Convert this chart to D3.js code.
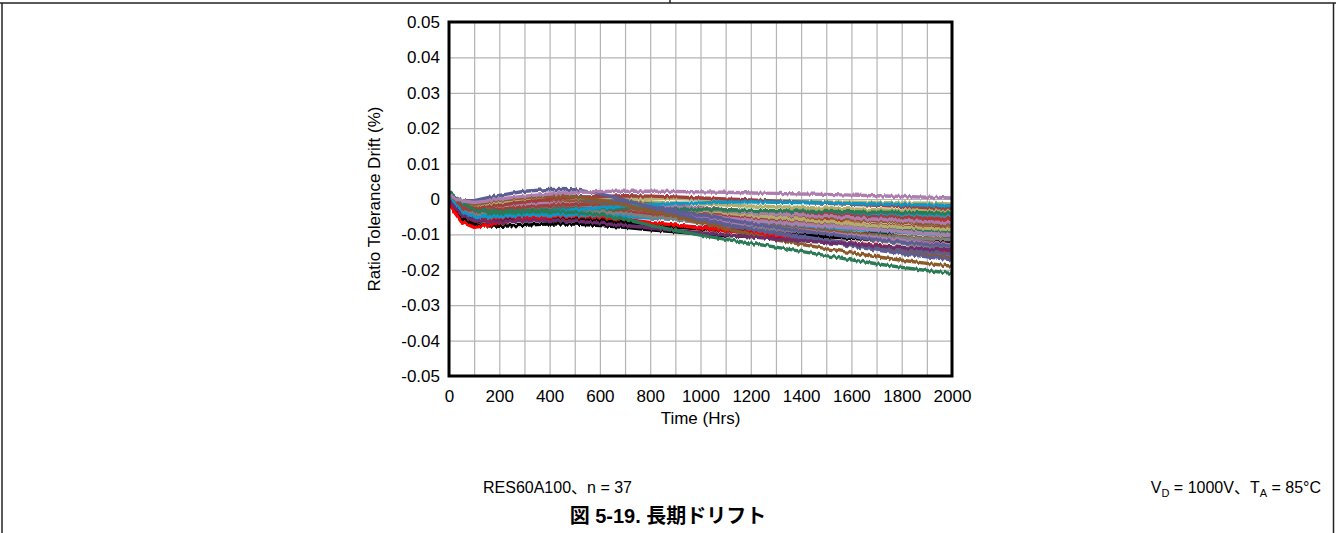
<!DOCTYPE html>
<html>
<head>
<meta charset="utf-8">
<script src="https://cdn.jsdelivr.net/npm/d3@7"></script>
<style>
  html, body { margin: 0; padding: 0; background: #fff; }
  svg { display: block; }
  text { font-family: "Liberation Sans", Arial, "Noto Sans CJK JP", sans-serif; fill: #000; }
</style>
</head>
<body>
<svg id="chart" width="1336" height="533"></svg>
<script>
// Sample times (hours) shared by every unit
const hours = [0, 25, 50, 100, 150, 200, 300, 400, 500, 600, 700, 800, 900, 1000, 1100, 1200, 1300, 1400, 1500, 1600, 1700, 1800, 1900, 2000];

// Axis ticks and labels
const xTickValues = [0, 200, 400, 600, 800, 1000, 1200, 1400, 1600, 1800, 2000];
const xGridValues = [0, 100, 200, 300, 400, 500, 600, 700, 800, 900, 1000, 1100, 1200, 1300, 1400, 1500, 1600, 1700, 1800, 1900, 2000];
const yTickValues = [0.05, 0.04, 0.03, 0.02, 0.01, 0, -0.01, -0.02, -0.03, -0.04, -0.05];
const yTickLabels = ["0.05", "0.04", "0.03", "0.02", "0.01", "0", "-0.01", "-0.02", "-0.03", "-0.04", "-0.05"];

// Ratio tolerance drift (%) of each of the 37 units
const teal1   = [0.0008, -0.0008, -0.0020, -0.0030, -0.0029, -0.0026, -0.0020, -0.0016, -0.0014, -0.0014, -0.0016, -0.0019, -0.0023, -0.0027, -0.0031, -0.0035, -0.0039, -0.0043, -0.0046, -0.0049, -0.0052, -0.0055, -0.0057, -0.0059];
const teal2   = [0.0006, -0.0010, -0.0024, -0.0034, -0.0033, -0.0030, -0.0025, -0.0022, -0.0022, -0.0025, -0.0030, -0.0036, -0.0042, -0.0048, -0.0054, -0.0060, -0.0065, -0.0070, -0.0075, -0.0080, -0.0084, -0.0088, -0.0092, -0.0095];
const gray4   = [0.0003, -0.0014, -0.0028, -0.0038, -0.0036, -0.0033, -0.0027, -0.0024, -0.0026, -0.0032, -0.0040, -0.0049, -0.0058, -0.0067, -0.0075, -0.0083, -0.0090, -0.0097, -0.0104, -0.0111, -0.0118, -0.0125, -0.0132, -0.0138];
const khaki4  = [0.0005, -0.0010, -0.0022, -0.0029, -0.0026, -0.0022, -0.0015, -0.0011, -0.0011, -0.0015, -0.0021, -0.0028, -0.0035, -0.0042, -0.0049, -0.0056, -0.0063, -0.0069, -0.0075, -0.0081, -0.0087, -0.0093, -0.0099, -0.0105];
const plum2   = [-0.0003, -0.0022, -0.0040, -0.0055, -0.0058, -0.0058, -0.0055, -0.0052, -0.0053, -0.0057, -0.0063, -0.0069, -0.0075, -0.0080, -0.0085, -0.0090, -0.0094, -0.0098, -0.0101, -0.0104, -0.0107, -0.0109, -0.0111, -0.0113];
const black2  = [-0.0003, -0.0025, -0.0045, -0.0062, -0.0065, -0.0064, -0.0060, -0.0056, -0.0057, -0.0061, -0.0067, -0.0073, -0.0079, -0.0085, -0.0090, -0.0095, -0.0099, -0.0103, -0.0107, -0.0111, -0.0114, -0.0117, -0.0120, -0.0122];
const red2    = [-0.0010, -0.0030, -0.0050, -0.0062, -0.0058, -0.0053, -0.0045, -0.0040, -0.0038, -0.0038, -0.0040, -0.0043, -0.0046, -0.0049, -0.0051, -0.0053, -0.0055, -0.0057, -0.0058, -0.0059, -0.0060, -0.0061, -0.0062, -0.0063];
const gray3   = [0.0004, -0.0013, -0.0028, -0.0038, -0.0036, -0.0033, -0.0027, -0.0023, -0.0023, -0.0026, -0.0031, -0.0037, -0.0043, -0.0049, -0.0054, -0.0059, -0.0063, -0.0067, -0.0070, -0.0073, -0.0076, -0.0078, -0.0080, -0.0082];
const green3  = [0.0015, 0.0000, -0.0018, -0.0035, -0.0040, -0.0042, -0.0040, -0.0038, -0.0038, -0.0040, -0.0044, -0.0049, -0.0054, -0.0059, -0.0064, -0.0069, -0.0073, -0.0077, -0.0081, -0.0084, -0.0087, -0.0090, -0.0092, -0.0094];
const cyan2   = [0.0003, -0.0020, -0.0038, -0.0048, -0.0050, -0.0049, -0.0047, -0.0045, -0.0045, -0.0047, -0.0050, -0.0054, -0.0058, -0.0062, -0.0066, -0.0070, -0.0074, -0.0078, -0.0082, -0.0086, -0.0090, -0.0094, -0.0098, -0.0102];
const cyan3   = [0.0006, -0.0010, -0.0025, -0.0035, -0.0034, -0.0032, -0.0026, -0.0022, -0.0020, -0.0020, -0.0021, -0.0023, -0.0026, -0.0029, -0.0031, -0.0033, -0.0035, -0.0037, -0.0039, -0.0041, -0.0043, -0.0044, -0.0045, -0.0046];
const maroon4 = [0.0004, -0.0010, -0.0022, -0.0030, -0.0028, -0.0025, -0.0018, -0.0014, -0.0013, -0.0016, -0.0021, -0.0027, -0.0033, -0.0039, -0.0045, -0.0050, -0.0055, -0.0060, -0.0065, -0.0069, -0.0073, -0.0077, -0.0080, -0.0083];
const khaki3  = [0.0006, -0.0008, -0.0018, -0.0025, -0.0022, -0.0018, -0.0010, -0.0005, -0.0003, -0.0003, -0.0005, -0.0008, -0.0011, -0.0014, -0.0017, -0.0020, -0.0022, -0.0024, -0.0026, -0.0028, -0.0030, -0.0032, -0.0033, -0.0034];
const brownC  = [0.0008, -0.0005, -0.0015, -0.0023, -0.0020, -0.0015, -0.0008, -0.0004, -0.0003, -0.0005, -0.0009, -0.0014, -0.0020, -0.0026, -0.0032, -0.0038, -0.0043, -0.0048, -0.0053, -0.0058, -0.0062, -0.0066, -0.0070, -0.0073];
const brownB  = [0.0005, -0.0010, -0.0020, -0.0027, -0.0026, -0.0024, -0.0020, -0.0018, -0.0019, -0.0023, -0.0030, -0.0038, -0.0046, -0.0054, -0.0062, -0.0070, -0.0077, -0.0084, -0.0090, -0.0096, -0.0101, -0.0106, -0.0110, -0.0114];
const maroon3 = [0.0002, -0.0015, -0.0030, -0.0040, -0.0039, -0.0036, -0.0030, -0.0026, -0.0025, -0.0028, -0.0034, -0.0041, -0.0049, -0.0057, -0.0065, -0.0073, -0.0081, -0.0089, -0.0096, -0.0103, -0.0110, -0.0116, -0.0123, -0.0129];
const gray2   = [0.0003, -0.0015, -0.0030, -0.0040, -0.0038, -0.0035, -0.0030, -0.0028, -0.0030, -0.0035, -0.0042, -0.0050, -0.0058, -0.0066, -0.0073, -0.0080, -0.0086, -0.0092, -0.0097, -0.0102, -0.0106, -0.0110, -0.0113, -0.0115];
const khaki2  = [0.0005, -0.0010, -0.0022, -0.0030, -0.0028, -0.0024, -0.0017, -0.0012, -0.0010, -0.0012, -0.0016, -0.0022, -0.0028, -0.0034, -0.0040, -0.0046, -0.0052, -0.0058, -0.0064, -0.0070, -0.0076, -0.0080, -0.0083, -0.0086];
const lilac3  = [0.0006, -0.0008, -0.0016, -0.0022, -0.0020, -0.0017, -0.0013, -0.0012, -0.0014, -0.0019, -0.0026, -0.0033, -0.0040, -0.0047, -0.0054, -0.0060, -0.0066, -0.0072, -0.0077, -0.0082, -0.0087, -0.0092, -0.0097, -0.0101];
const lilac4  = [0.0007, -0.0006, -0.0014, -0.0020, -0.0018, -0.0015, -0.0010, -0.0008, -0.0010, -0.0016, -0.0025, -0.0034, -0.0044, -0.0054, -0.0063, -0.0072, -0.0080, -0.0088, -0.0096, -0.0103, -0.0110, -0.0117, -0.0124, -0.0130];
const gray1   = [0.0005, -0.0012, -0.0025, -0.0035, -0.0033, -0.0030, -0.0023, -0.0018, -0.0016, -0.0017, -0.0020, -0.0024, -0.0028, -0.0032, -0.0035, -0.0038, -0.0041, -0.0044, -0.0046, -0.0048, -0.0050, -0.0051, -0.0052, -0.0053];
const maroon2 = [0.0003, -0.0012, -0.0025, -0.0033, -0.0032, -0.0029, -0.0023, -0.0018, -0.0015, -0.0014, -0.0015, -0.0018, -0.0022, -0.0026, -0.0030, -0.0034, -0.0038, -0.0041, -0.0044, -0.0047, -0.0050, -0.0052, -0.0054, -0.0056];
const lilac2  = [0.0008, -0.0005, -0.0012, -0.0018, -0.0015, -0.0012, -0.0008, -0.0006, -0.0006, -0.0008, -0.0012, -0.0017, -0.0022, -0.0027, -0.0032, -0.0037, -0.0041, -0.0045, -0.0049, -0.0053, -0.0057, -0.0060, -0.0064, -0.0067];
const green2  = [0.0018, 0.0005, -0.0012, -0.0028, -0.0034, -0.0035, -0.0033, -0.0030, -0.0028, -0.0027, -0.0027, -0.0028, -0.0029, -0.0030, -0.0031, -0.0032, -0.0033, -0.0034, -0.0035, -0.0036, -0.0037, -0.0038, -0.0039, -0.0040];
const brownD  = [0.0008, -0.0005, -0.0015, -0.0022, -0.0018, -0.0013, -0.0006, -0.0002, -0.0004, -0.0011, -0.0022, -0.0035, -0.0048, -0.0061, -0.0074, -0.0086, -0.0098, -0.0109, -0.0119, -0.0129, -0.0139, -0.0148, -0.0157, -0.0165];
const slate3  = [0.0009, 0.0000, -0.0010, -0.0018, -0.0014, -0.0009, 0.0000, 0.0005, 0.0002, -0.0006, -0.0018, -0.0032, -0.0046, -0.0060, -0.0073, -0.0085, -0.0096, -0.0106, -0.0116, -0.0125, -0.0134, -0.0142, -0.0149, -0.0156];
const slate2  = [0.0010, 0.0000, -0.0008, -0.0015, -0.0010, -0.0004, 0.0005, 0.0010, 0.0008, 0.0002, -0.0008, -0.0020, -0.0033, -0.0046, -0.0058, -0.0070, -0.0080, -0.0090, -0.0099, -0.0107, -0.0115, -0.0122, -0.0128, -0.0133];
const khaki1  = [0.0008, -0.0005, -0.0015, -0.0022, -0.0018, -0.0013, -0.0005, 0.0000, 0.0003, 0.0004, 0.0004, 0.0003, 0.0001, -0.0001, -0.0003, -0.0005, -0.0006, -0.0007, -0.0008, -0.0009, -0.0010, -0.0011, -0.0012, -0.0014];
const maroon1 = [0.0005, -0.0008, -0.0018, -0.0026, -0.0023, -0.0018, -0.0008, -0.0001, 0.0004, 0.0007, 0.0009, 0.0008, 0.0006, 0.0003, 0.0000, -0.0003, -0.0006, -0.0009, -0.0012, -0.0015, -0.0018, -0.0021, -0.0024, -0.0026];
const cyan1   = [0.0005, -0.0015, -0.0035, -0.0050, -0.0052, -0.0050, -0.0042, -0.0035, -0.0030, -0.0025, -0.0020, -0.0016, -0.0013, -0.0011, -0.0009, -0.0008, -0.0009, -0.0010, -0.0011, -0.0013, -0.0014, -0.0016, -0.0017, -0.0019];
const brownA  = [0.0010, 0.0000, -0.0008, -0.0015, -0.0010, -0.0003, 0.0004, 0.0008, 0.0006, -0.0003, -0.0017, -0.0033, -0.0050, -0.0067, -0.0084, -0.0100, -0.0115, -0.0128, -0.0140, -0.0152, -0.0163, -0.0173, -0.0182, -0.0190];
const slate1  = [0.0012, 0.0003, -0.0004, -0.0005, 0.0003, 0.0010, 0.0022, 0.0027, 0.0026, 0.0015, -0.0003, -0.0022, -0.0041, -0.0058, -0.0072, -0.0085, -0.0098, -0.0110, -0.0122, -0.0133, -0.0144, -0.0154, -0.0163, -0.0172];
const plum1   = [-0.0005, -0.0025, -0.0045, -0.0060, -0.0064, -0.0065, -0.0063, -0.0060, -0.0062, -0.0068, -0.0075, -0.0082, -0.0089, -0.0095, -0.0101, -0.0107, -0.0113, -0.0118, -0.0123, -0.0128, -0.0133, -0.0137, -0.0141, -0.0144];
const red1    = [-0.0015, -0.0040, -0.0065, -0.0080, -0.0075, -0.0068, -0.0058, -0.0050, -0.0049, -0.0052, -0.0058, -0.0066, -0.0074, -0.0082, -0.0089, -0.0096, -0.0103, -0.0110, -0.0117, -0.0124, -0.0131, -0.0138, -0.0145, -0.0152];
const black1  = [-0.0005, -0.0030, -0.0055, -0.0072, -0.0076, -0.0077, -0.0074, -0.0070, -0.0071, -0.0075, -0.0080, -0.0087, -0.0093, -0.0099, -0.0103, -0.0106, -0.0107, -0.0106, -0.0103, -0.0100, -0.0096, -0.0092, -0.0089, -0.0086];
const green1  = [0.0020, 0.0005, -0.0010, -0.0030, -0.0038, -0.0040, -0.0038, -0.0035, -0.0038, -0.0045, -0.0058, -0.0074, -0.0089, -0.0102, -0.0114, -0.0125, -0.0136, -0.0148, -0.0160, -0.0172, -0.0183, -0.0193, -0.0202, -0.0210];
const lilac1  = [0.0010, 0.0002, -0.0005, -0.0010, -0.0006, 0.0000, 0.0008, 0.0014, 0.0018, 0.0021, 0.0022, 0.0022, 0.0021, 0.0020, 0.0019, 0.0017, 0.0016, 0.0014, 0.0013, 0.0011, 0.0009, 0.0007, 0.0005, 0.0003];

// Drawing order (first drawn sits underneath) and colour of each unit
const units = [teal1, teal2, gray4, khaki4, plum2, black2, red2, black1, red1, gray3, green3, cyan2, cyan3, maroon4, khaki3, brownC, brownB, maroon3, gray2, khaki2, lilac3, lilac4, gray1, maroon2, lilac2, green2, brownD, slate3, slate2, khaki1, maroon1, cyan1, brownA, slate1, plum1, green1, lilac1];
const unitColors = ["#2d6b7c", "#2d6b7c", "#7f7f7f", "#b3ad6b", "#6b2d6b", "#000000", "#ff0000", "#000000", "#ff0000", "#7f7f7f", "#2b7a55", "#0f96c6", "#0f96c6", "#a03e3e", "#b3ad6b", "#8a5a2c", "#8a5a2c", "#a03e3e", "#7f7f7f", "#b3ad6b", "#ad7db0", "#ad7db0", "#7f7f7f", "#a03e3e", "#ad7db0", "#2b7a55", "#8a5a2c", "#5b5d93", "#5b5d93", "#b3ad6b", "#a03e3e", "#0f96c6", "#8a5a2c", "#5b5d93", "#6b2d6b", "#2b7a55", "#ad7db0"];

const svg = d3.select("#chart");
const W = 1336, H = 533;

// Page frame around the figure
const frame = svg.append("g").attr("stroke", "#222").attr("stroke-width", 1.5).attr("fill", "none");
frame.append("line").attr("x1", 0).attr("x2", W).attr("y1", 3).attr("y2", 3);
frame.append("line").attr("x1", 670).attr("x2", 670).attr("y1", 0).attr("y2", 3);
frame.append("line").attr("x1", 2).attr("x2", 2).attr("y1", 3).attr("y2", H);
frame.append("line").attr("x1", 1333.5).attr("x2", 1333.5).attr("y1", 3).attr("y2", H);

// Plot area
const pLeft = 449, pRight = 952, pTop = 22, pBottom = 376;
const x = d3.scaleLinear().domain([0, 2000]).range([pLeft, pRight]);
const y = d3.scaleLinear().domain([-0.05, 0.05]).range([pBottom, pTop]);

// Grid
const grid = svg.append("g");
grid.append("g")
  .attr("transform", `translate(0,${pBottom})`)
  .call(d3.axisBottom(x).tickValues(xGridValues).tickSize(-(pBottom - pTop)).tickFormat(""))
  .call(g => g.select(".domain").remove())
  .call(g => g.selectAll("line").attr("stroke", "#b4b4b4").attr("stroke-width", 1.2));
grid.append("g")
  .attr("transform", `translate(${pLeft},0)`)
  .call(d3.axisLeft(y).tickValues(yTickValues).tickSize(-(pRight - pLeft)).tickFormat(""))
  .call(g => g.select(".domain").remove())
  .call(g => g.selectAll("line").attr("stroke", "#b4b4b4").attr("stroke-width", 1.2));

// Measurement-trace texture: a fine vertical jitter applied when rendering the curves
const defs = svg.append("defs");
const rough = defs.append("filter").attr("id", "traceNoise")
  .attr("x", "-2%").attr("y", "-20%").attr("width", "104%").attr("height", "140%");
rough.append("feTurbulence").attr("type", "fractalNoise").attr("baseFrequency", "0.45 0.03")
  .attr("numOctaves", 1).attr("seed", 7).attr("result", "noise");
rough.append("feColorMatrix").attr("in", "noise").attr("type", "matrix")
  .attr("values", "0 0 0 0 0.5  0 1 0 0 0  0 0 0 0 0  0 0 0 0 1").attr("result", "shift");
rough.append("feDisplacementMap").attr("in", "SourceGraphic").attr("in2", "shift")
  .attr("scale", 5).attr("xChannelSelector", "R").attr("yChannelSelector", "G");

// Drift curves
defs.append("clipPath").attr("id", "plotClip")
  .append("rect").attr("x", pLeft + 1).attr("y", pTop).attr("width", pRight - pLeft - 1).attr("height", pBottom - pTop);
const line = d3.line().x((d, i) => x(hours[i])).y(d => y(d));
svg.append("g").attr("clip-path", "url(#plotClip)")
  .append("g").attr("filter", "url(#traceNoise)")
  .selectAll("path").data(units).join("path")
  .attr("d", line)
  .attr("fill", "none")
  .attr("stroke", (d, i) => unitColors[i])
  .attr("stroke-width", 3.4)
  .attr("stroke-linejoin", "round");

// Plot border
svg.append("rect")
  .attr("x", pLeft).attr("y", pTop).attr("width", pRight - pLeft).attr("height", pBottom - pTop)
  .attr("fill", "none").attr("stroke", "#000").attr("stroke-width", 3);

// Axes labels
const yAxis = svg.append("g")
  .attr("transform", `translate(${pLeft},0)`)
  .call(d3.axisLeft(y).tickValues(yTickValues).tickSize(0).tickPadding(9).tickFormat((d, i) => yTickLabels[i]));
yAxis.select(".domain").remove();
yAxis.selectAll("text").style("font-family", "'Liberation Sans', Arial, sans-serif").style("font-size", "17px").attr("fill", "#000");

const xAxis = svg.append("g")
  .attr("transform", `translate(0,${pBottom})`)
  .call(d3.axisBottom(x).tickValues(xTickValues).tickSize(0).tickPadding(14).tickFormat(d3.format("d")));
xAxis.select(".domain").remove();
xAxis.selectAll("text").style("font-family", "'Liberation Sans', Arial, sans-serif").style("font-size", "17px").attr("fill", "#000");

svg.append("text")
  .attr("x", (pLeft + pRight) / 2).attr("y", 424)
  .attr("text-anchor", "middle").style("font-size", "17px")
  .text("Time (Hrs)");

svg.append("text")
  .attr("transform", `translate(380,${(pTop + pBottom) / 2}) rotate(-90)`)
  .attr("text-anchor", "middle").style("font-size", "17px")
  .text("Ratio Tolerance Drift (%)");

// Conditions and caption
svg.append("text")
  .attr("x", 483).attr("y", 493)
  .style("font-size", "16px")
  .text("RES60A100、n = 37");

const cond = svg.append("text")
  .attr("x", 1321).attr("y", 493)
  .attr("text-anchor", "end")
  .style("font-size", "16px");
cond.append("tspan").text("V");
cond.append("tspan").attr("dy", 4).style("font-size", "11px").text("D");
cond.append("tspan").attr("dy", -4).text(" = 1000V、T");
cond.append("tspan").attr("dy", 4).style("font-size", "11px").text("A");
cond.append("tspan").attr("dy", -4).text(" = 85°C");

svg.append("text")
  .attr("x", 668).attr("y", 523)
  .attr("text-anchor", "middle")
  .style("font-size", "20px").style("font-weight", "bold")
  .style("font-family", "'Liberation Sans', 'Noto Sans CJK JP', sans-serif")
  .text("図 5-19. 長期ドリフト");
</script>
</body>
</html>
